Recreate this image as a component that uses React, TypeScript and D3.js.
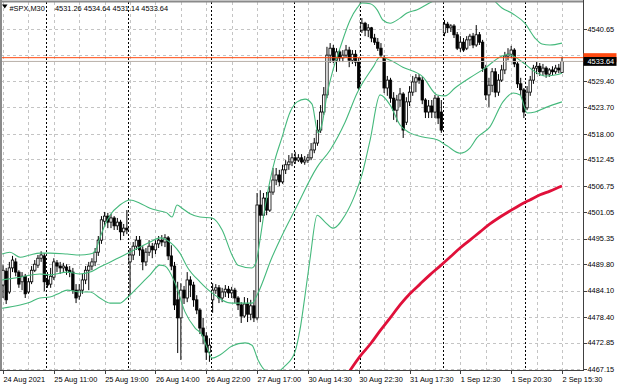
import React from "react";
import * as d3 from "d3";

// #SPX M30 candles, left to right (bar 0 = first visible bar)
const openP = [
  4485.3, 4488.3, 4483.8, 4489.0, 4490.3, 4488.1, 4486.0, 4487.2, 4483.8, 4486.0,
  4488.5, 4489.6, 4491.1, 4491.6, 4486.4, 4485.5, 4487.0, 4490.1, 4489.4, 4489.0,
  4489.2, 4488.5, 4488.1, 4484.2, 4482.9, 4484.2, 4486.4, 4488.5, 4489.4, 4490.3,
  4492.4, 4495.0, 4499.1, 4500.2, 4498.9, 4499.8, 4498.1, 4498.9, 4496.8, 4497.6,
  4490.3, 4491.8, 4493.7, 4495.0, 4492.9, 4490.3, 4492.4, 4493.7, 4492.9, 4494.2,
  4495.0, 4494.6, 4495.5, 4491.6, 4489.4, 4482.1, 4478.2, 4484.2, 4482.5, 4486.4,
  4485.3, 4482.1, 4479.9, 4476.0, 4474.3, 4470.8, 4482.1, 4484.2, 4484.7, 4482.5,
  4483.8, 4484.4, 4483.6, 4484.2, 4482.5, 4481.0, 4478.6, 4481.2, 4479.0, 4480.8,
  4478.2, 4502.6, 4500.4, 4504.1, 4501.5, 4505.4, 4508.0, 4509.1, 4507.6, 4510.2,
  4511.3, 4511.9, 4512.8, 4512.3, 4512.8, 4511.9, 4512.3, 4512.8, 4514.5, 4516.0,
  4518.8, 4522.7, 4526.4, 4535.0, 4536.5, 4533.9, 4535.7, 4534.4, 4535.0, 4536.1,
  4533.9, 4535.2, 4533.5, 4540.4, 4541.9, 4540.4, 4540.9, 4538.7, 4537.8, 4536.5,
  4534.4, 4527.9, 4529.6, 4525.7, 4523.1, 4525.3, 4526.6, 4520.5, 4524.9, 4527.0,
  4529.2, 4530.1, 4529.6, 4525.3, 4522.7, 4524.0, 4522.7, 4525.7, 4522.7, 4539.8,
  4541.7, 4540.9, 4541.3, 4539.4, 4536.5, 4537.8, 4536.5, 4538.3, 4539.1, 4537.2,
  4539.4, 4537.8, 4532.2, 4526.4, 4528.5, 4531.4, 4527.0, 4529.6, 4531.8, 4534.8,
  4535.2, 4536.1, 4533.1, 4528.8, 4527.5, 4523.6, 4527.0, 4529.6, 4532.2, 4532.6,
  4531.4, 4532.2, 4530.9, 4531.8, 4531.4, 4532.2, 4531.26,
];
const highP = [
  4489.6, 4489.0, 4490.3, 4491.6, 4491.1, 4488.5, 4488.1, 4487.7, 4486.8, 4489.4,
  4490.7, 4491.8, 4492.6, 4492.2, 4488.1, 4489.0, 4491.1, 4490.7, 4490.3, 4490.1,
  4489.8, 4489.4, 4489.0, 4485.5, 4485.5, 4487.7, 4489.4, 4490.3, 4491.1, 4493.3,
  4495.9, 4500.2, 4501.1, 4500.9, 4500.7, 4500.2, 4499.8, 4499.4, 4498.5, 4501.5,
  4493.3, 4494.6, 4495.9, 4495.9, 4493.7, 4493.3, 4495.0, 4494.4, 4495.0, 4495.9,
  4496.1, 4496.3, 4495.9, 4493.9, 4490.3, 4486.0, 4485.7, 4485.1, 4488.1, 4487.2,
  4486.0, 4483.1, 4480.3, 4478.2, 4475.1, 4473.8, 4485.7, 4485.5, 4485.3, 4484.7,
  4485.3, 4485.1, 4484.9, 4484.7, 4482.9, 4481.6, 4482.7, 4482.5, 4482.1, 4484.2,
  4505.2, 4505.8, 4505.2, 4505.4, 4506.7, 4510.6, 4510.6, 4510.2, 4511.3, 4512.3,
  4513.4, 4513.8, 4514.1, 4513.6, 4513.6, 4513.2, 4513.6, 4516.0, 4517.1, 4521.0,
  4524.2, 4528.1, 4536.8, 4537.6, 4537.2, 4536.5, 4536.1, 4536.1, 4537.2, 4536.8,
  4536.1, 4536.1, 4534.4, 4543.0, 4542.2, 4541.7, 4541.1, 4539.6, 4538.7, 4537.6,
  4535.0, 4530.5, 4530.1, 4527.0, 4526.4, 4527.9, 4527.0, 4525.9, 4528.3, 4530.5,
  4530.9, 4530.9, 4530.3, 4525.7, 4525.3, 4525.3, 4526.4, 4526.2, 4525.3, 4542.6,
  4542.2, 4541.7, 4541.7, 4540.0, 4539.1, 4538.7, 4539.1, 4539.6, 4539.8, 4541.5,
  4540.0, 4538.3, 4532.9, 4530.1, 4532.2, 4532.2, 4530.9, 4532.9, 4535.7, 4536.5,
  4537.0, 4536.5, 4533.5, 4530.1, 4527.9, 4528.3, 4530.5, 4532.9, 4533.5, 4533.3,
  4533.1, 4532.6, 4532.2, 4532.6, 4532.9, 4533.1, 4534.64,
];
const lowP = [
  4482.5, 4481.2, 4483.4, 4488.1, 4487.2, 4484.7, 4484.2, 4482.5, 4483.4, 4485.5,
  4488.1, 4489.0, 4490.3, 4484.0, 4484.7, 4484.7, 4486.4, 4488.1, 4487.7, 4487.9,
  4487.5, 4487.0, 4483.4, 4481.4, 4482.1, 4483.4, 4485.5, 4484.2, 4488.5, 4489.4,
  4491.6, 4494.2, 4498.1, 4497.6, 4497.6, 4497.2, 4497.2, 4495.0, 4495.9, 4496.3,
  4483.1, 4490.7, 4492.9, 4491.6, 4488.5, 4489.4, 4491.6, 4491.1, 4492.0, 4493.3,
  4493.7, 4493.5, 4490.7, 4488.5, 4479.9, 4470.6, 4469.1, 4481.2, 4481.6, 4482.7,
  4480.6, 4479.0, 4474.7, 4472.5, 4469.1, 4468.7, 4479.3, 4483.4, 4481.4, 4481.6,
  4482.7, 4482.5, 4482.5, 4481.4, 4479.9, 4477.1, 4478.2, 4477.3, 4477.7, 4477.3,
  4477.7, 4498.9, 4499.8, 4500.4, 4501.1, 4504.8, 4506.9, 4506.7, 4507.2, 4509.3,
  4510.2, 4511.0, 4511.5, 4511.9, 4511.5, 4511.3, 4511.7, 4512.3, 4513.8, 4515.4,
  4518.2, 4522.1, 4525.7, 4533.3, 4533.3, 4531.4, 4533.5, 4533.5, 4534.4, 4532.4,
  4533.1, 4532.6, 4527.5, 4539.8, 4539.1, 4538.9, 4537.8, 4537.2, 4535.9, 4534.6,
  4526.8, 4526.2, 4524.7, 4521.0, 4520.5, 4523.8, 4517.1, 4519.9, 4524.0, 4526.2,
  4527.0, 4528.8, 4524.4, 4521.4, 4521.4, 4521.4, 4521.4, 4520.1, 4518.2, 4539.1,
  4539.8, 4540.0, 4538.7, 4536.1, 4535.7, 4535.7, 4536.1, 4537.0, 4536.5, 4536.8,
  4537.2, 4531.4, 4525.3, 4523.8, 4527.0, 4525.9, 4526.2, 4529.2, 4530.9, 4533.9,
  4534.4, 4532.4, 4527.9, 4526.2, 4521.4, 4523.1, 4526.2, 4528.8, 4530.9, 4530.5,
  4530.5, 4530.1, 4530.3, 4530.7, 4530.9, 4531.1, 4531.14,
];
const closeP = [
  4488.5, 4482.1, 4489.0, 4490.7, 4488.1, 4485.5, 4487.2, 4483.4, 4486.0, 4488.5,
  4489.8, 4491.1, 4491.8, 4486.0, 4485.3, 4487.2, 4490.3, 4489.4, 4489.0, 4489.4,
  4488.5, 4488.1, 4484.2, 4482.5, 4484.2, 4486.4, 4488.5, 4489.4, 4490.3, 4492.4,
  4495.0, 4499.4, 4500.2, 4498.9, 4499.8, 4498.1, 4498.9, 4496.8, 4497.6, 4497.2,
  4491.8, 4493.7, 4495.0, 4492.9, 4490.3, 4492.4, 4493.7, 4492.9, 4494.2, 4495.0,
  4494.6, 4495.5, 4491.6, 4489.4, 4481.0, 4478.2, 4484.2, 4482.5, 4486.4, 4485.3,
  4482.1, 4479.9, 4476.0, 4474.3, 4470.8, 4472.3, 4484.2, 4484.7, 4482.5, 4483.8,
  4484.4, 4483.6, 4484.2, 4482.5, 4481.0, 4478.6, 4481.2, 4479.0, 4480.8, 4478.2,
  4502.6, 4500.4, 4504.1, 4501.5, 4505.4, 4508.0, 4509.1, 4507.6, 4510.2, 4511.3,
  4511.9, 4512.8, 4512.3, 4512.8, 4511.9, 4512.3, 4512.8, 4514.5, 4516.0, 4518.8,
  4522.7, 4526.4, 4535.0, 4536.5, 4533.9, 4535.7, 4534.4, 4535.0, 4536.1, 4533.9,
  4535.2, 4533.5, 4527.9, 4541.9, 4540.4, 4540.9, 4538.7, 4537.8, 4536.5, 4535.0,
  4527.9, 4529.6, 4525.7, 4523.1, 4525.3, 4526.6, 4518.8, 4524.9, 4527.0, 4529.2,
  4530.1, 4529.6, 4525.3, 4522.7, 4524.0, 4522.7, 4525.7, 4521.4, 4518.8, 4541.7,
  4540.9, 4541.3, 4539.4, 4536.5, 4537.8, 4536.1, 4538.3, 4539.1, 4537.2, 4539.4,
  4537.8, 4532.2, 4526.4, 4528.5, 4531.4, 4527.0, 4529.6, 4531.8, 4534.8, 4535.2,
  4536.1, 4533.1, 4528.8, 4527.5, 4522.7, 4527.0, 4529.6, 4532.2, 4532.6, 4531.4,
  4532.2, 4530.9, 4531.8, 4531.4, 4532.2, 4531.8, 4533.64,
];

// Bollinger bands and the slow MA, read as [bar, price] points
const upperBand: [number, number][] = [
  [-0.3, 4492.0], [2.2, 4492.4], [5.4, 4491.3], [8.5, 4491.8], [11.6, 4492.2], [14.8, 4492.2],
  [20.2, 4492.0], [24.2, 4491.8], [27.4, 4492.0], [29.0, 4492.6], [30.5, 4495.5], [32.1, 4498.3],
  [33.7, 4500.4], [36.8, 4502.6], [40.0, 4503.7], [43.1, 4503.0], [46.3, 4501.9], [49.4, 4501.3],
  [51.6, 4500.9], [53.2, 4500.0], [54.8, 4502.6], [56.4, 4501.9], [58.9, 4500.7], [62.0, 4500.0],
  [65.8, 4499.8], [69.0, 4497.2], [72.1, 4491.8], [74.0, 4489.6], [78.4, 4489.0], [79.7, 4490.3],
  [80.9, 4495.0], [82.5, 4502.2], [84.1, 4508.0], [85.6, 4512.3], [87.8, 4517.1], [90.4, 4522.7],
  [92.6, 4524.9], [95.1, 4525.5], [97.3, 4524.4], [99.2, 4518.2], [100.4, 4519.9], [102.0, 4526.4],
  [103.9, 4531.8], [106.1, 4536.5], [109.3, 4542.6], [111.5, 4545.2], [113.0, 4546.3], [115.6, 4546.1],
  [117.8, 4544.8], [119.6, 4542.6], [121.9, 4541.9], [125.0, 4543.0], [127.2, 4544.1], [130.4, 4544.8],
  [134.4, 4546.3], [139.2, 4547.8], [147.0, 4548.2], [153.3, 4547.4], [157.1, 4545.2], [160.6, 4543.9],
  [164.3, 4541.9], [167.5, 4538.7], [169.7, 4537.4], [172.2, 4537.2], [176.0, 4537.6],
];
const middleBand: [number, number][] = [
  [-0.3, 4486.4], [5.4, 4487.0], [11.6, 4487.7], [14.8, 4487.5], [20.2, 4488.1], [24.2, 4487.7],
  [27.4, 4488.1], [30.5, 4489.2], [36.8, 4491.3], [43.1, 4493.5], [46.3, 4494.6], [49.4, 4495.5],
  [51.6, 4495.0], [55.7, 4492.2], [58.2, 4489.0], [62.0, 4486.0], [65.8, 4483.6], [72.1, 4481.4],
  [78.4, 4481.4], [80.3, 4483.6], [84.7, 4491.3], [88.2, 4496.5], [91.9, 4501.5], [98.9, 4510.8],
  [103.0, 4514.5], [107.7, 4520.5], [111.5, 4526.8], [116.5, 4532.4], [118.7, 4534.6], [121.9, 4533.9],
  [125.9, 4532.4], [132.2, 4530.3], [136.7, 4526.4], [139.2, 4526.2], [142.3, 4527.9], [147.0, 4530.1],
  [151.8, 4532.2], [156.5, 4534.6], [159.0, 4535.2], [161.2, 4534.6], [164.3, 4533.1], [167.5, 4531.4],
  [170.6, 4530.5], [173.8, 4530.7], [176.0, 4531.1],
];
const lowerBand: [number, number][] = [
  [-0.3, 4480.3], [5.4, 4481.0], [8.5, 4481.6], [11.6, 4482.5], [14.8, 4482.7], [17.9, 4483.6],
  [20.2, 4484.2], [24.2, 4483.8], [27.4, 4483.8], [30.5, 4482.5], [33.7, 4481.4], [36.8, 4481.4],
  [39.0, 4482.5], [43.1, 4485.3], [46.3, 4487.5], [49.4, 4489.6], [51.0, 4489.4], [54.2, 4485.7],
  [57.3, 4479.5], [60.5, 4476.0], [62.7, 4474.5], [64.5, 4471.3], [65.8, 4469.5], [68.3, 4470.2],
  [72.1, 4472.1], [76.2, 4472.8], [78.4, 4472.3], [80.3, 4469.1], [82.5, 4466.9], [85.6, 4466.3],
  [88.8, 4467.8], [91.9, 4470.8], [93.5, 4475.6], [95.1, 4483.1], [96.7, 4491.1], [98.9, 4500.4],
  [101.4, 4498.9], [103.9, 4497.6], [107.7, 4500.4], [110.8, 4504.8], [113.0, 4509.1], [115.6, 4516.7],
  [118.7, 4526.4], [121.9, 4524.2], [125.0, 4519.9], [128.1, 4518.2], [132.2, 4517.3], [136.7, 4516.7],
  [139.8, 4515.4], [143.9, 4513.8], [147.0, 4514.9], [149.2, 4517.1], [153.3, 4519.5], [157.4, 4524.9],
  [160.6, 4526.8], [162.8, 4526.4], [165.0, 4522.5], [167.5, 4522.7], [170.6, 4523.6], [176.0, 4524.9],
];
const slowMa: [number, number][] = [
  [107.7, 4465.2], [112.4, 4469.9], [115.6, 4472.5], [118.7, 4475.4], [121.9, 4478.2], [125.0, 4481.0],
  [128.1, 4483.4], [131.3, 4485.5], [134.4, 4487.5], [137.6, 4489.4], [140.7, 4491.3], [143.9, 4493.3],
  [147.0, 4495.0], [150.2, 4496.8], [153.3, 4498.5], [156.5, 4500.0], [159.6, 4501.3], [162.8, 4502.6],
  [165.9, 4503.7], [169.1, 4504.8], [172.2, 4505.6], [176.0, 4506.7],
];

// 4535.00 is a grid level whose label sits under the bid/ask boxes
const priceTicks = [
  4540.65, 4535.0, 4529.4, 4523.7, 4518.0, 4512.45, 4506.75,
  4501.05, 4495.35, 4489.8, 4484.1, 4478.4, 4472.85, 4467.15,
];
const hiddenTick = 4535.0;
const timeLabels = [
  "24 Aug 2021", "25 Aug 11:00", "25 Aug 19:00", "26 Aug 14:00", "26 Aug 22:00", "27 Aug 17:00",
  "30 Aug 14:30", "30 Aug 22:30", "31 Aug 17:30", "1 Sep 12:30", "1 Sep 20:30", "2 Sep 15:30",
];
const daySeparators = [14, 40, 66, 92, 113, 139, 165];
const bidPrice = 4533.64;
const askPrice = 4534.45;
const symbol = "#SPX,M30";
const lastOhlc = "4531.26 4534.64 4531.14 4533.64";

const W = 620;
const H = 388;
const PL = 1, PT = 2, PR = 583, PB = 370;
const FONT = "'Liberation Sans', Arial, sans-serif";

export default function App() {
  const n = closeP.length;
  const x = d3.scaleLinear().domain([0, n - 1]).range([3, 562]);
  const y = d3.scaleLinear().domain([4467.15, 4540.65]).range([369, 29]);
  const line = d3
    .line<[number, number]>()
    .x((d) => x(d[0]))
    .y((d) => y(d[1]))
    .curve(d3.curveMonotoneX);
  const bodyW = 2.4;
  const crisp = (v: number) => Math.round(v) + 0.5;

  return (
    <svg
      width={W}
      height={H}
      style={{ position: "absolute", left: 0, top: 0, background: "#fff" }}
    >
      <defs>
        <clipPath id="plot">
          <rect x={PL} y={PT} width={PR - PL} height={PB - PT} />
        </clipPath>
      </defs>
      <rect width={W} height={H} fill="#fff" />

      <g clipPath="url(#plot)">
        {/* grid */}
        {priceTicks.map((t) => (
          <line key={"h" + t} x1={PL} x2={PR} y1={crisp(y(t))} y2={crisp(y(t))}
            stroke="#c4c4c4" strokeDasharray="3,3" />
        ))}
        {d3.range(0, n, 8).map((i) => (
          <line key={"v" + i} x1={crisp(x(i))} x2={crisp(x(i))} y1={PT} y2={PB}
            stroke="#c4c4c4" strokeDasharray="3,3" />
        ))}
        {daySeparators.map((i) => (
          <line key={"s" + i} x1={crisp(x(i) - 1.6)} x2={crisp(x(i) - 1.6)} y1={PT} y2={PB}
            stroke="#000" strokeDasharray="2,2" />
        ))}

        {/* candles */}
        {closeP.map((c, i) => {
          const o = openP[i];
          const cx = x(i);
          const top = y(Math.max(o, c));
          const bot = y(Math.min(o, c));
          const bull = c >= o;
          return (
            <g key={"c" + i}>
              <line x1={cx} x2={cx} y1={y(highP[i])} y2={y(lowP[i])} stroke="#000" strokeWidth={1} />
              <rect x={cx - bodyW / 2} y={top} width={bodyW} height={Math.max(bot - top, 0.8)}
                fill={bull ? "#fff" : "#000"} stroke="#000" strokeWidth={0.8} />
            </g>
          );
        })}

        {/* indicators */}
        {[upperBand, middleBand, lowerBand].map((b, k) => (
          <path key={"b" + k} d={line(b) || ""} fill="none" stroke="#45b97c" strokeWidth={1.1} />
        ))}
        <path d={line(slowMa) || ""} fill="none" stroke="#e0103a" strokeWidth={2.8} />

        {/* bid / ask */}
        <line x1={PL} x2={PR} y1={y(bidPrice)} y2={y(bidPrice)} stroke="#b8b0a8" strokeWidth={1} />
        <line x1={PL} x2={PR} y1={y(askPrice)} y2={y(askPrice)} stroke="#ff4a10" strokeWidth={1} />
      </g>

      {/* frame */}
      <line x1={0} x2={PR} y1={1.5} y2={1.5} stroke="#8a8a8a" strokeWidth={2} />
      <line x1={1} x2={1} y1={0} y2={PB} stroke="#8a8a8a" strokeWidth={2} />
      <line x1={PR + 0.5} x2={PR + 0.5} y1={0} y2={PB + 1} stroke="#404040" />
      <line x1={0} x2={PR + 1} y1={PB + 0.5} y2={PB + 0.5} stroke="#404040" />

      {/* price axis */}
      {priceTicks.map((t) => (
        <g key={"p" + t}>
          <line x1={PR} x2={PR + 4} y1={crisp(y(t))} y2={crisp(y(t))} stroke="#404040" />
          {t !== hiddenTick && (
            <text x={PR + 4.5} y={y(t) + 2.8} fontFamily={FONT} fontSize={7.4} fill="#000">
              {t.toFixed(2)}
            </text>
          )}
        </g>
      ))}
      <rect x={PR + 0.5} y={y(askPrice) - 4.5} width={33} height={9} fill="#ff4a10" />
      <rect x={PR + 0.5} y={y(bidPrice) - 4.4} width={33} height={8.8} fill="#000" />
      <text x={PR + 4.5} y={y(bidPrice) + 2.8} fontFamily={FONT} fontSize={7.4} fill="#fff">
        {bidPrice.toFixed(2)}
      </text>

      {/* time axis */}
      {timeLabels.map((lab, k) => {
        const tx = x(k * 16);
        return (
          <g key={"t" + k}>
            <line x1={crisp(tx)} x2={crisp(tx)} y1={PB} y2={PB + 4} stroke="#404040" />
            <text x={tx + 0.5} y={382} fontFamily={FONT} fontSize={7.4} fill="#000">
              {lab}
            </text>
          </g>
        );
      })}

      {/* title */}
      <path d="M2,4.5 L7.5,4.5 L4.75,8.5 Z" fill="#000" />
      <text x={9.5} y={10.5} fontFamily={FONT} fontSize={7.4} fill="#000">{symbol}</text>
      <text x={55} y={10.5} fontFamily={FONT} fontSize={7.4} fill="#000" xmlSpace="preserve">
        {lastOhlc}
      </text>
    </svg>
  );
}
